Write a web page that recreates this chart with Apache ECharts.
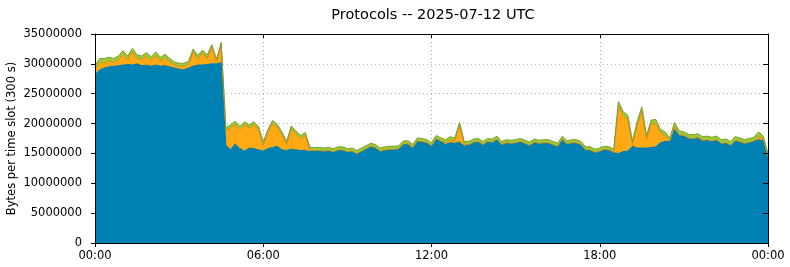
<!DOCTYPE html>
<html>
<head>
<meta charset="utf-8">
<script src="https://cdn.jsdelivr.net/npm/echarts@6.0.0/dist/echarts.min.js"></script>
<style>
  html, body { margin: 0; padding: 0; background: #ffffff; }
  #chart { width: 790px; height: 267px; }
</style>
</head>
<body>
<div id="chart"></div>
<script>
// 10 minute slots from 00:00 to 24:00, values in millions of bytes per slot
const slotMinutes = 10;

const other = [
  28.2, 29.0, 29.3, 29.5, 29.6, 29.7, 29.8, 29.9, 29.8, 30.0, 29.7, 29.8, 29.6, 29.8, 29.6, 29.7,
  29.5, 29.3, 29.1, 29.0, 29.3, 29.6, 29.8, 29.8, 29.9, 30.0, 30.0, 30.2,
  16.4, 15.6, 16.6, 15.8, 15.4, 15.9, 15.8, 15.6, 15.4, 15.8, 16.0, 16.2, 15.6, 15.5, 15.7, 15.6,
  15.5, 15.5, 15.3,
  15.4, 15.4, 15.3, 15.4, 15.2, 15.5, 15.5, 15.2, 15.3, 14.9, 15.3, 15.7, 16.1, 15.9, 15.3, 15.5,
  15.6, 15.6, 15.7, 16.5, 16.5, 15.9, 17.0, 16.9, 16.7, 16.2, 17.4, 17.0, 16.5, 16.8, 16.7, 16.9,
  16.2, 16.4, 16.8, 16.9,
  16.4, 16.9, 16.8, 17.3, 16.4, 16.7, 16.6, 16.7, 16.9, 16.6, 16.3, 16.8, 16.6, 16.7, 16.7, 16.4,
  16.1, 17.3, 16.5, 16.7, 16.7, 16.4, 15.5, 15.5, 15.1, 15.3, 15.6, 15.5,
  15.1, 15.0, 15.3, 15.4, 16.2, 15.9, 15.9, 15.9, 16.0, 16.1, 16.8, 17.0, 17.0, 19.0, 18.0, 17.9,
  17.5, 17.4, 17.6, 17.1, 17.2, 17.0, 17.2, 16.6, 16.7, 16.3, 17.1, 16.9, 16.6, 16.8, 17.0, 17.3,
  17.1, 14.4
];

const middle = [
  1.0, 1.2, 0.9, 1.0, 0.7, 1.0, 1.8, 0.8, 2.2, 0.9, 1.0, 1.5, 1.0, 1.6, 0.9, 1.3,
  0.8, 0.5, 0.5, 0.6, 0.6, 2.4, 1.0, 2.0, 1.0, 2.8, 0.4, 3.0,
  2.4, 3.7, 3.3, 3.2, 4.4, 3.4, 4.0, 3.4, 1.0, 2.7, 4.0, 3.2, 2.5, 1.0, 3.4, 2.6,
  2.0, 2.5, 0.2,
  0.1, 0.1, 0.1, 0.1, 0.1, 0.1, 0.1, 0.1, 0.1, 0.1, 0.1, 0.1, 0.1, 0.1, 0.1, 0.1,
  0.1, 0.1, 0.1, 0.1, 0.1, 0.1, 0.1, 0.1, 0.1, 0.1, 0.1, 0.1, 0.3, 0.5, 0.4, 2.8,
  0.3, 0.1, 0.1, 0.1,
  0.1, 0.1, 0.1, 0.1, 0.1, 0.1, 0.1, 0.1, 0.1, 0.1, 0.1, 0.1, 0.1, 0.1, 0.1, 0.1,
  0.1, 0.1, 0.1, 0.1, 0.1, 0.1, 0.1, 0.1, 0.1, 0.1, 0.1, 0.1,
  0.1, 8.0, 6.0, 5.3, 0.3, 3.7, 6.2, 1.5, 3.9, 3.9, 1.6, 1.0, 0.1, 0.5, 0.1, 0.1,
  0.1, 0.1, 0.1, 0.1, 0.1, 0.1, 0.1, 0.1, 0.1, 0.1, 0.1, 0.1, 0.1, 0.1, 0.1, 0.6,
  0.2, 0.1
];

const top_ = [
  0.6, 0.7, 0.7, 0.6, 0.6, 0.6, 0.6, 0.6, 0.6, 0.6, 0.6, 0.6, 0.6, 0.6, 0.6, 0.6,
  0.6, 0.5, 0.5, 0.5, 0.5, 0.5, 0.6, 0.5, 0.6, 0.4, 0.4, 0.4,
  0.5, 0.5, 0.5, 0.5, 0.5, 0.5, 0.5, 0.5, 0.5, 0.5, 0.5, 0.5, 0.5, 0.5, 0.5, 0.5,
  0.5, 0.5, 0.5,
  0.5, 0.5, 0.5, 0.5, 0.5, 0.5, 0.5, 0.5, 0.5, 0.5, 0.5, 0.5, 0.5, 0.5, 0.5, 0.5,
  0.5, 0.5, 0.5, 0.5, 0.5, 0.5, 0.5, 0.5, 0.5, 0.5, 0.5, 0.5, 0.5, 0.5, 0.5, 0.5,
  0.5, 0.5, 0.5, 0.5,
  0.5, 0.5, 0.5, 0.5, 0.5, 0.5, 0.5, 0.5, 0.5, 0.5, 0.5, 0.5, 0.5, 0.5, 0.5, 0.5,
  0.5, 0.5, 0.5, 0.5, 0.5, 0.5, 0.5, 0.5, 0.5, 0.5, 0.5, 0.5,
  0.5, 0.7, 0.7, 0.7, 0.6, 0.7, 0.7, 0.6, 0.7, 0.7, 0.6, 0.6, 0.5, 0.7, 0.7, 0.6,
  0.6, 0.6, 0.6, 0.6, 0.6, 0.6, 0.6, 0.6, 0.6, 0.6, 0.6, 0.6, 0.6, 0.6, 0.6, 0.7,
  0.6, 0.5
];

const font = "DejaVu Sans";
const pad = (n) => String(n).padStart(2, "0");
const slotLabels = other.map((_, i) => {
  const m = i * slotMinutes;
  return pad(Math.floor(m / 60) % 24) + ":" + pad(m % 60);
});
const labelEvery = 6 * 60 / slotMinutes - 1;

const chart = echarts.init(document.getElementById("chart"), null, { renderer: "canvas" });

const frameLine = { show: true, onZero: false, lineStyle: { color: "#000000", width: 1 } };
const gridLine = { show: true, lineStyle: { color: "#b4b4b4", width: 1, type: [1, 3] } };

function layer(name, values, fill, stroke) {
  return {
    name,
    type: "line",
    stack: "bytes",
    symbol: "none",
    xAxisIndex: 0,
    yAxisIndex: 0,
    z: 2,
    lineStyle: { color: stroke, width: 1 },
    areaStyle: { color: fill, opacity: 1 },
    data: values.map((v) => Math.round(v * 1e6)),
  };
}

function timeAxis(extra) {
  return Object.assign(
    {
      type: "category",
      data: slotLabels,
      boundaryGap: false,
      axisLine: { show: false },
      axisTick: { show: false },
      axisLabel: { show: false },
      splitLine: { show: false },
    },
    extra,
  );
}

function bytesAxis(extra) {
  return Object.assign(
    {
      type: "value",
      min: 0,
      max: 35000000,
      interval: 5000000,
      axisLine: { show: false },
      axisTick: { show: false },
      axisLabel: { show: false },
      splitLine: { show: false },
    },
    extra,
  );
}

chart.setOption({
  animation: false,
  textStyle: { fontFamily: font },
  title: {
    text: "Protocols -- 2025-07-12 UTC",
    left: 428,
    top: 3,
    textAlign: "center",
    textStyle: { fontFamily: font, fontSize: 14.5, fontWeight: "normal", color: "#000000" },
  },
  grid: { left: 95, right: 22, top: 34, bottom: 24, outerBoundsMode: "none", containLabel: false },
  xAxis: [
    timeAxis({
      position: "bottom",
      z: 10,
      axisLine: frameLine,
      axisTick: { show: true, inside: false, length: 4, interval: labelEvery, lineStyle: { color: "#000000" } },
      axisLabel: {
        show: true,
        interval: labelEvery,
        color: "#000000",
        fontFamily: font,
        fontSize: 11.5,
        margin: 7,
        showMinLabel: true,
        showMaxLabel: true,
      },
    }),
    timeAxis({
      position: "top",
      z: 10,
      axisLine: frameLine,
      axisTick: { show: true, inside: true, length: 4, interval: labelEvery, lineStyle: { color: "#000000" } },
    }),
    timeAxis({
      position: "bottom",
      z: 0,
      splitLine: Object.assign({ interval: labelEvery }, gridLine),
    }),
  ],
  yAxis: [
    bytesAxis({
      position: "left",
      z: 10,
      name: "Bytes per time slot (300 s)",
      nameLocation: "middle",
      nameRotate: 90,
      nameGap: 77,
      nameMoveOverlap: false,
      nameTextStyle: { color: "#000000", fontFamily: font, fontSize: 11.5 },
      axisLine: frameLine,
      axisTick: { show: true, inside: false, length: 4, lineStyle: { color: "#000000" } },
      axisLabel: {
        show: true,
        color: "#000000",
        fontFamily: font,
        fontSize: 11.5,
        margin: 13,
        formatter: (v) => String(v),
      },
    }),
    bytesAxis({
      position: "right",
      z: 10,
      axisLine: frameLine,
      axisTick: { show: true, inside: true, length: 5, lineStyle: { color: "#000000" } },
    }),
    bytesAxis({
      position: "left",
      z: 0,
      splitLine: gridLine,
    }),
  ],
  series: [
    layer("other", other, "#0081b3", "#0078a8"),
    layer("middle", middle, "#ffa914", "#c98d22"),
    layer("top", top_, "#9acd34", "#7f9a2c"),
  ],
});
</script>
</body>
</html>
